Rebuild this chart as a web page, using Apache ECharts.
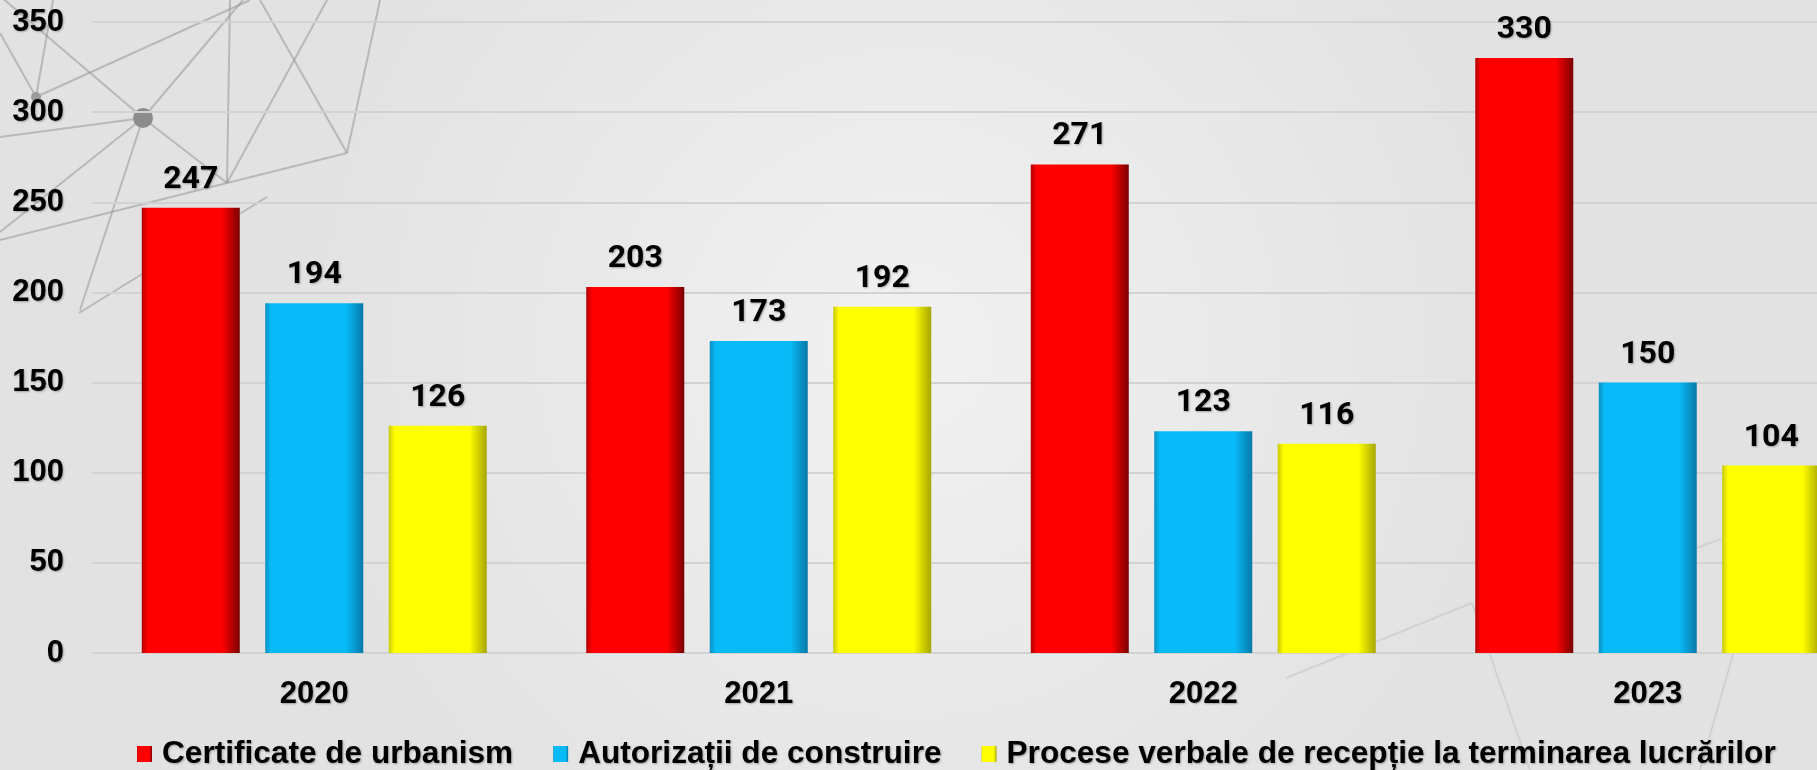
<!DOCTYPE html>
<html>
<head>
<meta charset="utf-8">
<script src="https://cdn.jsdelivr.net/npm/echarts@6/dist/echarts.min.js"></script>
<style>
  html, body { margin: 0; padding: 0; }
  #chart { width: 1817px; height: 770px; }
</style>
</head>
<body>
<div id="chart"></div>
<script>
// date
const years = ["2020", "2021", "2022", "2023"];
const certificate = [247, 203, 271, 330];
const autorizatii = [194, 173, 123, 150];
const procese = [126, 192, 116, 104];
const seriesNames = [
  "Certificate de urbanism",
  "Autorizații de construire",
  "Procese verbale de recepție la terminarea lucrărilor"
];

const chart = echarts.init(document.getElementById("chart"));

// gradient orizontal pentru efectul de bara 3D
function barColor(dark, main, edge) {
  return new echarts.graphic.LinearGradient(0, 0, 1, 0, [
    { offset: 0, color: dark },
    { offset: 0.06, color: main },
    { offset: 0.82, color: main },
    { offset: 1, color: edge }
  ]);
}

const shadow = {
  textShadowColor: "rgba(0,0,0,0.3)",
  textShadowBlur: 2,
  textShadowOffsetX: 1,
  textShadowOffsetY: 1
};

const labelStyle = {
  show: true,
  position: "top",
  distance: 12,
  color: "#000",
  fontFamily: "Roboto",
  fontWeight: "bold",
  fontSize: 32,
  ...shadow
};

// fundal decorativ (linii de retea)
const decoLines = [
  [[143, 118], [0, 137]],
  [[143, 118], [0, -4]],
  [[143, 118], [243, 0]],
  [[143, 118], [227, 183]],
  [[143, 118], [0, 232]],
  [[143, 118], [80, 310]],
  [[36, 97], [53, 0]],
  [[36, 97], [0, 33]],
  [[36, 97], [250, 0]],
  [[227, 183], [230, 0]],
  [[227, 183], [327, 0]],
  [[227, 183], [347, 153]],
  [[227, 183], [0, 240]],
  [[347, 153], [260, 0]],
  [[347, 153], [380, 0]],
  [[79, 313], [267, 197]]
];
const faintLines = [
  [[1286, 678], [1472, 603]],
  [[1472, 603], [1530, 770]],
  [[1611, 579], [1721, 539]],
  [[1700, 770], [1760, 560]]
];
const decoGraphic = decoLines.map(l => ({
  type: "line",
  silent: true,
  z: -10,
  shape: { x1: l[0][0], y1: l[0][1], x2: l[1][0], y2: l[1][1] },
  style: { stroke: "rgba(150,150,150,0.55)", lineWidth: 2 }
})).concat(faintLines.map(l => ({
  type: "line",
  silent: true,
  z: -10,
  shape: { x1: l[0][0], y1: l[0][1], x2: l[1][0], y2: l[1][1] },
  style: { stroke: "rgba(170,170,170,0.3)", lineWidth: 2 }
})));
decoGraphic.push(
  { type: "circle", silent: true, z: -9, shape: { cx: 143, cy: 118, r: 10 }, style: { fill: "#8c8c8c" } },
  { type: "circle", silent: true, z: -9, shape: { cx: 36, cy: 97, r: 5 }, style: { fill: "#9a9a9a" } }
);

chart.setOption({
  backgroundColor: new echarts.graphic.RadialGradient(0.5, 0.45, 0.8, [
    { offset: 0, color: "#f1f1f1" },
    { offset: 1, color: "#e2e2e2" }
  ]),
  graphic: decoGraphic,
  textStyle: { fontFamily: "Liberation Sans" },
  legend: {
    left: 132,
    top: 733,
    itemWidth: 15,
    itemHeight: 16,
    itemGap: 40,
    icon: "rect",
    textStyle: {
      color: "#000",
      fontWeight: "bold",
      fontSize: 31.6,
      fontFamily: "Liberation Sans",
      padding: [0, 0, 0, 5],
      ...shadow
    },
    data: seriesNames
  },
  grid: { left: 92, right: -53, top: 22, bottom: 117, outerBoundsMode: "none" },
  xAxis: {
    type: "category",
    data: years,
    axisLine: { show: false },
    axisTick: { show: false },
    axisLabel: {
      margin: 26,
      color: "#000",
      fontWeight: "bold",
      fontSize: 31,
      ...shadow
    }
  },
  yAxis: {
    type: "value",
    min: 0,
    max: 350,
    interval: 50,
    axisLine: { show: false },
    axisTick: { show: false },
    splitLine: { lineStyle: { color: "#d2d2d2", width: 2 } },
    axisLabel: {
      margin: 28,
      color: "#000",
      fontWeight: "bold",
      fontSize: 31,
      ...shadow
    }
  },
  series: [
    {
      name: seriesNames[0],
      type: "bar",
      data: certificate,
      barWidth: 98,
      barGap: "26%",
      itemStyle: { color: barColor("#b00000", "#ff0000", "#7a0000") },
      label: labelStyle
    },
    {
      name: seriesNames[1],
      type: "bar",
      data: autorizatii,
      barWidth: 98,
      barGap: "26%",
      itemStyle: { color: barColor("#0a8fc0", "#08bbf8", "#0679a8") },
      label: labelStyle
    },
    {
      name: seriesNames[2],
      type: "bar",
      data: procese,
      barWidth: 98,
      barGap: "26%",
      itemStyle: { color: barColor("#c8c800", "#ffff00", "#a6a600") },
      label: labelStyle
    }
  ]
});
</script>
</body>
</html>
